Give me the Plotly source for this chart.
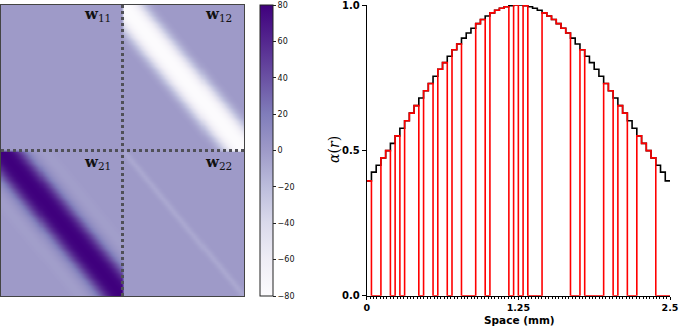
import numpy as np
import plotly.graph_objects as go

# ---------------- data ----------------
# alpha(r) sampled on 64 spatial bins over 0..2.5 mm (read from picture)
alpha_half = [0.395, 0.425, 0.449, 0.474, 0.499, 0.524, 0.550, 0.576,
              0.602, 0.628, 0.654, 0.680, 0.705, 0.730, 0.755, 0.779,
              0.802, 0.824, 0.846, 0.866, 0.886, 0.904, 0.920, 0.936,
              0.950, 0.962, 0.973, 0.982, 0.989, 0.994, 0.998, 1.000]
alpha_values = alpha_half + alpha_half[::-1]

# which bins are active (red follows alpha) vs. silent (red at 0)
active_mask = [1, 0, 0, 1, 1, 0, 1, 0, 1, 1, 1, 0, 1, 1, 0, 1,
               1, 0, 1, 1, 0, 0, 0, 1, 1, 0, 1, 1, 1, 1, 0, 1,
               0, 1, 0, 0, 0, 1, 1, 1, 1, 1, 1, 0, 0, 1, 0, 0,
               0, 0, 1, 1, 0, 1, 1, 0, 0, 1, 1, 1, 1, 0, 0, 0]

space_max_mm = 2.5
x_tick_vals = [0, 1.25, 2.5]
x_tick_text = ["0", "1.25", "2.5"]
y_tick_vals = [0.0, 0.5, 1.0]
y_tick_text = ["0.0", "0.5", "1.0"]

# weight-matrix block profiles vs. distance from block diagonal (in cells)
block_cells = 60
w12_profile = [-80, -80, -79, -77, -74, -69, -62, -54, -45, -36, -28, -20,
               -14, -9, -5, -2.5, -1, 0]
w21_profile = [80, 80, 79, 78, 76, 72, 67, 61, 54, 46, 38, 30, 23, 16, 11,
               7, 4, 2, 0, -1, -2, -2, -2, -2, -1, -1, 0]
w22_profile = [-8, -6, -3, -1, 0]
colorbar_ticks = [80, 60, 40, 20, 0, -20, -40, -60, -80]

# ---------------- build ----------------
n = block_cells
z = np.zeros((2 * n, 2 * n))
for i in range(n):
    for j in range(n):
        d = abs(i - j)
        if d < len(w12_profile):
            z[i, n + j] = w12_profile[d]
        if d < len(w21_profile):
            z[n + i, j] = w21_profile[d]
        if d < len(w22_profile):
            z[n + i, n + j] = w22_profile[d]

nb = len(alpha_values)
edges = np.linspace(0, space_max_mm, nb + 1)
black_y = list(alpha_values) + [alpha_values[-1]]
red_vals = [a * m for a, m in zip(alpha_values, active_mask)]
red_y = red_vals + [red_vals[-1]]

W, H = 680, 327
fig = go.Figure()

fig.add_trace(go.Heatmap(
    z=z, x0=0, dx=1, y0=0, dy=1,
    colorscale="Purples", zmin=-80, zmax=80, zsmooth="best",
    xaxis="x", yaxis="y",
    colorbar=dict(
        x=260 / W, xanchor="left", xpad=0,
        y=(H - 150.5) / H, yanchor="middle", ypad=0,
        len=291 / H, lenmode="fraction", thickness=13,
        outlinewidth=1, outlinecolor="#222",
        tickvals=colorbar_ticks, ticks="outside", ticklen=3,
        tickcolor="#222",
        tickfont=dict(family="DejaVu Sans", size=8, color="#111"),
    ),
))

fig.add_trace(go.Scatter(
    x=edges, y=black_y, mode="lines", line_shape="hv",
    line=dict(color="black", width=1.6), xaxis="x2", yaxis="y2",
    cliponaxis=False, showlegend=False,
))
fig.add_trace(go.Scatter(
    x=edges, y=red_y, mode="lines", line_shape="hv",
    line=dict(color="#ff0000", width=1.6), xaxis="x2", yaxis="y2",
    cliponaxis=False, showlegend=False,
))

# dashed block dividers
div_style = dict(color="#505058", width=3, dash="3px,3px")
fig.add_shape(type="line", xref="x", yref="y", x0=n - 0.5, x1=n - 0.5,
              y0=-0.5, y1=2 * n - 0.5, line=div_style)
fig.add_shape(type="line", xref="x", yref="y", x0=-0.5, x1=2 * n - 0.5,
              y0=n - 0.5, y1=n - 0.5, line=div_style)

labels = [("11", 113, 14), ("12", 234, 14), ("21", 113, 162), ("22", 234, 162)]
for sub, px, py in labels:
    fig.add_annotation(
        text="<b>w</b><sub>%s</sub>" % sub, xref="paper", yref="paper",
        x=px / W, y=(H - py) / H, xanchor="right", yanchor="middle",
        showarrow=False, font=dict(family="DejaVu Serif", size=15, color="#111"))

fig.add_annotation(text="Space (mm)", xref="paper", yref="paper",
                   x=519 / W, y=(H - 320) / H, xanchor="center", yanchor="middle",
                   showarrow=False,
                   font=dict(family="DejaVu Sans", size=10.5, color="black", weight="bold"))
fig.add_annotation(text="<i>α</i>(<i>r</i>)", xref="paper", yref="paper",
                   x=334 / W, y=(H - 150) / H, xanchor="center", yanchor="middle",
                   textangle=-90, showarrow=False,
                   font=dict(family="DejaVu Serif", size=14, color="black"))

hm_axis = dict(showticklabels=False, ticks="", showgrid=False, zeroline=False,
               showline=True, mirror=True, linecolor="#444", linewidth=1)
fig.update_layout(
    width=W, height=H, margin=dict(l=0, r=0, t=0, b=0, autoexpand=False),
    paper_bgcolor="white", plot_bgcolor="white", showlegend=False,
    xaxis=dict(domain=[1 / W, 244 / W], range=[-0.5, 2 * n - 0.5], **hm_axis),
    yaxis=dict(domain=[(H - 296) / H, (H - 5) / H], range=[2 * n - 0.5, -0.5],
               anchor="x", **hm_axis),
    xaxis2=dict(domain=[366.7 / W, 670 / W], range=[0, space_max_mm], anchor="y2",
                showgrid=False, zeroline=False, showline=True, linecolor="black",
                linewidth=1, ticks="outside", ticklen=3, tickcolor="black",
                ticklabeloverflow="allow",
                tickvals=x_tick_vals, ticktext=x_tick_text,
                tickfont=dict(family="DejaVu Sans", size=9.5, color="black", weight="bold"),
                minor=dict(ticks="outside", ticklen=2, dtick=space_max_mm / 90,
                           tickcolor="black", showgrid=False)),
    yaxis2=dict(domain=[(H - 295.7) / H, (H - 5) / H], range=[0, 1.0001], anchor="x2",
                showgrid=False, zeroline=False, showline=True, linecolor="black",
                linewidth=1, ticks="outside", ticklen=4, tickcolor="black",
                ticklabeloverflow="allow",
                tickvals=y_tick_vals, ticktext=y_tick_text,
                tickfont=dict(family="DejaVu Sans", size=10, color="black", weight="bold")),
)

fig.write_html("out.html", config={"displayModeBar": False},
               post_script="document.body.style.margin='0';document.body.style.padding='0';")
